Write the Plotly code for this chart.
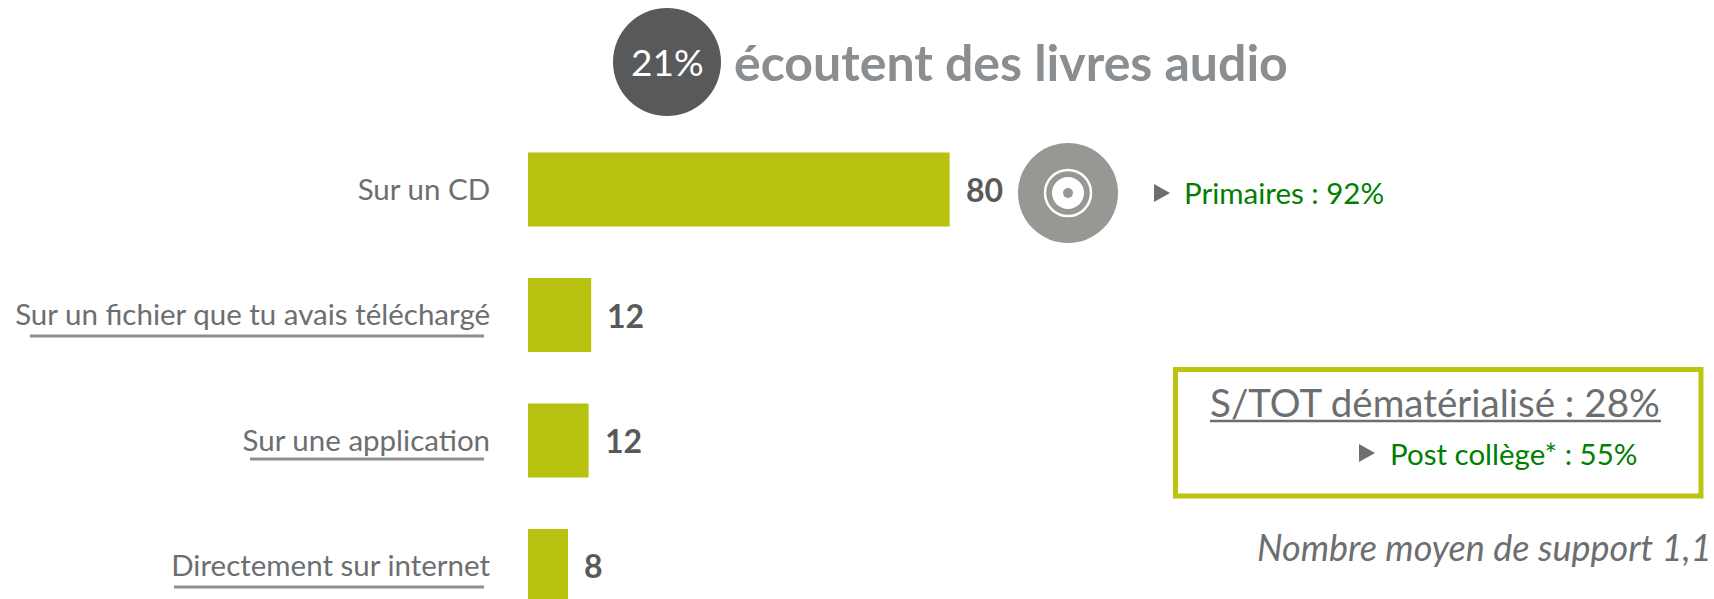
import plotly.graph_objects as go

categories = ["Sur un CD", "Sur un fichier que tu avais téléchargé", "Sur une application", "Directement sur internet"]
values = [80, 12, 11.5, 7.6]
value_labels = ["80", "12", "12", "8"]

W, H = 1714, 599
X0 = 528
PX_PER_UNIT = 5.27
FONT = "Lato"
GREY = "#6d6e70"
DARK = "#58595b"
LIME = "#b6c110"
GREEN = "#008000"
CD_GREY = "#969893"

def px(x): return x / W
def py(y): return 1 - y / H

def circle(cx, cy, r, **kw):
    return dict(type="circle", xref="paper", yref="paper",
                x0=px(cx - r), x1=px(cx + r), y0=py(cy + r), y1=py(cy - r), **kw)

def text(x, y, s, size, color, anchor="left", bold=False, italic=False):
    t = f"<b>{s}</b>" if bold else s
    t = f"<i>{t}</i>" if italic else t
    return dict(xref="paper", yref="paper", x=px(x), y=py(y), text=t, showarrow=False,
                xanchor=anchor, yanchor="middle", font=dict(family=FONT, size=size, color=color))

def tri(x, y, w=16, h=18):
    return dict(type="path", xref="paper", yref="paper", line=dict(width=0), fillcolor="#6e6e6e",
                path=f"M {px(x)} {py(y-h/2)} L {px(x+w)} {py(y)} L {px(x)} {py(y+h/2)} Z")

def hline(x0, x1, y, color="#8c8e90", width=3):
    return dict(type="line", xref="paper", yref="paper", x0=px(x0), x1=px(x1), y0=py(y), y1=py(y),
                line=dict(color=color, width=width))

fig = go.Figure(go.Bar(y=categories, x=values, orientation="h", width=0.59,
                       marker=dict(color=LIME, line=dict(width=0)), hoverinfo="skip"))

shapes = [
    circle(667, 62, 54, fillcolor=DARK, line=dict(width=0)),
    circle(1068, 193, 50, fillcolor=CD_GREY, line=dict(width=0)),
    circle(1068, 193, 23, fillcolor="rgba(0,0,0,0)", line=dict(color="white", width=2.5)),
    circle(1068, 193, 16, fillcolor="white", line=dict(width=0)),
    circle(1068, 193, 5, fillcolor=CD_GREY, line=dict(width=0)),
    tri(1154, 193),
    tri(1359, 453),
    hline(30, 484, 336),
    hline(250, 484, 459),
    hline(174, 484, 587),
    hline(1210, 1661, 421, color="#6d6e70", width=2.5),
    dict(type="rect", xref="paper", yref="paper", x0=px(1175.5), x1=px(1701), y0=py(369.5), y1=py(496),
         line=dict(color="#bcc40e", width=5), fillcolor="rgba(0,0,0,0)"),
]

annotations = [
    text(667, 61, "21%", 37, "white", anchor="center"),
    text(732, 62, "écoutent des livres audio", 50, "#8b8e91", bold=True),
    text(1182, 192, "Primaires : 92%", 29.5, GREEN),
    text(1662, 402, "S/TOT dématérialisé : 28%", 38.5, GREY, anchor="right"),
    text(1388, 453, "Post collège* : 55%", 29.5, GREEN),
    text(1714, 547, "Nombre moyen de support 1,1", 36, GREY, anchor="right", italic=True),
]
for cat, v, lab in zip(categories, values, value_labels):
    annotations.append(dict(xref="x", yref="y", x=v, y=cat, text=f"<b>{lab}</b>", showarrow=False,
                            xanchor="left", yanchor="middle", xshift=14,
                            font=dict(family=FONT, size=32, color=DARK)))

fig.update_layout(
    width=W, height=H, autosize=False, margin=dict(l=0, r=0, t=0, b=0),
    paper_bgcolor="white", plot_bgcolor="white", showlegend=False,
    shapes=shapes, annotations=annotations,
    xaxis=dict(domain=[X0 / W, 1], range=[0, (W - X0) / PX_PER_UNIT], visible=False),
    yaxis=dict(type="category", categoryorder="array", categoryarray=categories,
               range=[3.263, -1.51], showgrid=False, zeroline=False, showline=False,
               ticks="outside", ticklen=31, tickcolor="rgba(0,0,0,0)", automargin=False,
               tickfont=dict(family=FONT, size=29.5, color=GREY)),
)
fig.write_html("out.html", config=dict(displayModeBar=False),
               post_script="document.body.style.margin='0';document.body.style.overflow='hidden';")
